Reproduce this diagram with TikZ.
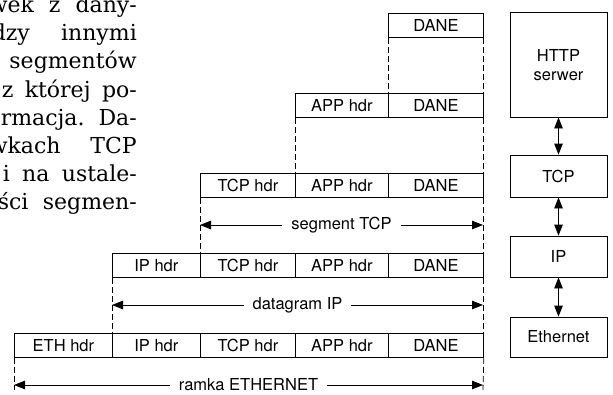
\documentclass[tikz,border=0pt]{standalone}
\usepackage{fontspec}
\setmainfont{DejaVu Serif}
\newfontfamily\diagfont{TeX Gyre Heros}
\usetikzlibrary{arrows.meta}
\begin{document}
\begin{tikzpicture}[x=1pt,y=-1pt,
  lbl/.style={font=\diagfont\fontsize{16.5}{19}\selectfont},
  cell/.style={lbl, draw, line width=0.8pt, anchor=north west, minimum height=24.5pt, inner sep=0pt},
  rbox/.style={lbl, draw, line width=0.8pt, minimum width=97pt, inner sep=0pt, align=center},
  dashline/.style={line width=0.8pt, dash pattern=on 6pt off 3pt},
  dimarrow/.style={line width=0.8pt, {Triangle[length=11pt,width=8.5pt]}-{Triangle[length=11pt,width=8.5pt]}},
  dimlabel/.style={lbl, fill=white, inner xsep=9pt, inner ysep=2pt},
  para/.style={font=\fontsize{22}{28}\selectfont, inner sep=0pt, anchor=base east}
]
\useasboundingbox (0,0) rectangle (613,394);

% paragraph fragment
\node[para] (p1) at (137,12)  {\makebox[148pt][s]{wek z dany-}};
\node[para] (p2) at (137,40)  {\makebox[145pt][s]{dzy innymi}};
\node[para] (p3) at (137,68)  {segmentów};
\node[para] (p4) at (137,97)  {\makebox[135pt][s]{z której po-}};
\node[para] (p5) at (137,125) {\makebox[136pt][s]{rmacja. Da-}};
\node[para] (p6) at (137,153) {\makebox[148pt][s]{wkach TCP}};
\node[para] (p7) at (137,181) {\makebox[134pt][s]{i na ustale-}};
\node[para] (p8) at (137,209) {\makebox[139pt][s]{ści segmen-}};

% row 1
\node[cell, minimum width=95pt] (d1) at (388,12.5) {DANE};
% row 2
\node[cell, minimum width=93pt] (a2) at (295,92.5) {APP hdr};
\node[cell, minimum width=95pt] (d2) at (388,92.5) {DANE};
% row 3
\node[cell, minimum width=95pt] (t3) at (200,172.5) {TCP hdr};
\node[cell, minimum width=93pt] (a3) at (295,172.5) {APP hdr};
\node[cell, minimum width=95pt] (d3) at (388,172.5) {DANE};
% row 4
\node[cell, minimum width=88pt] (i4) at (112,252.5) {IP hdr};
\node[cell, minimum width=95pt] (t4) at (200,252.5) {TCP hdr};
\node[cell, minimum width=93pt] (a4) at (295,252.5) {APP hdr};
\node[cell, minimum width=95pt] (d4) at (388,252.5) {DANE};
% row 5
\node[cell, minimum width=98pt] (e5) at (14,332.5) {ETH hdr};
\node[cell, minimum width=88pt] (i5) at (112,332.5) {IP hdr};
\node[cell, minimum width=95pt] (t5) at (200,332.5) {TCP hdr};
\node[cell, minimum width=93pt] (a5) at (295,332.5) {APP hdr};
\node[cell, minimum width=95pt] (d5) at (388,332.5) {DANE};

% dashed guides
\draw[dashline] (d1.south west) -- (d2.north west);
\draw[dashline] (d1.south east) -- (d2.north east);
\draw[dashline] (a2.south west) -- (a3.north west);
\draw[dashline] (d2.south east) -- (d3.north east);
\draw[dashline] (t3.south west) -- (t4.north west);
\draw[dashline] (d3.south east) -- (d4.north east);
\draw[dashline] (i4.south west) -- (i5.north west);
\draw[dashline] (d4.south east) -- (d5.north east);
\coordinate (endL) at (14,390);
\coordinate (endR) at (483,390);
\draw[dashline] (e5.south west) -- (endL);
\draw[dashline] (d5.south east) -- (endR);

% dimension arrows
\coordinate (sL) at (200,225);
\coordinate (sR) at (483,225);
\coordinate (gL) at (112,305);
\coordinate (gR) at (483,305);
\coordinate (fL) at (14,385);
\coordinate (fR) at (483,385);
\draw[dimarrow] (sL) -- node[dimlabel] (sl) {segment TCP} (sR);
\draw[dimarrow] (gL) -- node[dimlabel] (gl) {datagram IP} (gR);
\draw[dimarrow] (fL) -- node[dimlabel] (fl) {ramka ETHERNET} (fR);

% protocol stack
\node[rbox, minimum height=104.5pt] (http) at (558.5,64.75) {HTTP\\serwer};
\node[rbox, minimum height=42pt] (tcp) at (558.5,176) {TCP};
\node[rbox, minimum height=41pt] (ip) at (558.5,256.5) {IP};
\node[rbox, minimum height=40pt] (eth) at (558.5,337) {Ethernet};
\draw[dimarrow] (http) -- (tcp);
\draw[dimarrow] (tcp) -- (ip);
\draw[dimarrow] (ip) -- (eth);
\end{tikzpicture}
\end{document}
